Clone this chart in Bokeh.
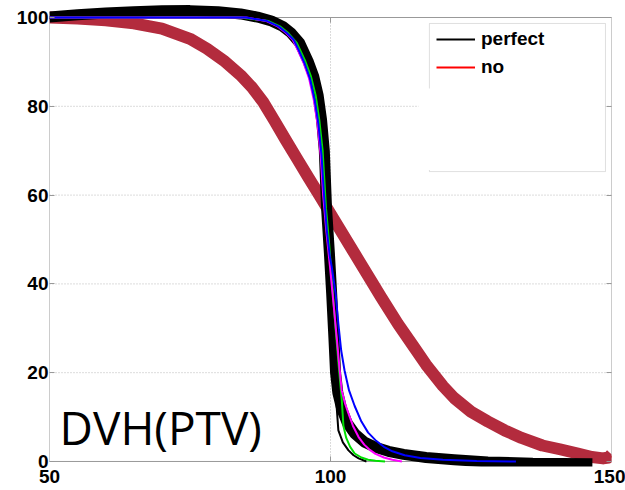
from bokeh.plotting import figure
from bokeh.models import (Range1d, LinearAxis, FixedTicker, Legend, LegendItem,
                          BoxAnnotation, Label, CustomJSTickFormatter)
from bokeh.embed import file_html
from bokeh.resources import INLINE

# ---------------- data ----------------
X_TICKS = [50, 100, 150]
Y_TICKS = [0, 20, 40, 60, 80, 100]
X_LIM = [50, 150]
Y_LIM = [0, 100]
Y_GRID = [20, 40, 60, 80]
X_GRID = [100]

PERFECT_THICK_X = [50, 55, 60, 65, 70, 75, 80, 84, 87, 89.5, 91.5, 93, 94.5, 96, 97, 97.8,
                   98.4, 98.9, 99.3, 99.8, 100.2, 100.6, 100.9, 101.3, 102, 103, 104.3, 106,
                   108, 110.3, 113, 117, 122, 128, 136, 146.6]
PERFECT_THICK_Y = [100.1, 100.6, 101.0, 101.3, 101.5, 101.55, 101.3, 100.8, 100.1, 99.2, 98.0,
                   96.5, 94.3, 90.2, 86.8, 82.5, 77, 70, 57, 47, 38, 28, 20, 15.5, 11.8, 8.6,
                   6.3, 4.4, 3.2, 2.3, 1.6, 0.9, 0.4, -0.1, -0.4, -0.5]

NO_X = [50, 55, 60, 65, 70, 75, 78, 81, 84, 86, 88, 90, 92, 94, 96, 98, 100, 102, 104.3, 107,
        109, 112, 115, 117, 120, 122, 125, 128, 131, 134, 137.7, 141, 144, 146.5, 148.5,
        149.5, 150]
NO_THICK_Y = [100, 99.8, 99.4, 98.7, 97.5, 95.2, 93.0, 90.3, 87.0, 84.3, 81.0, 76.8, 72.5,
              68.3, 64.1, 60.0, 55.8, 51.6, 46.8, 41.2, 37.0, 31.0, 25.5, 21.8, 17.0, 14.3,
              11.2, 9.0, 7.0, 5.3, 3.6, 2.7, 1.8, 1.0, 0.7, 0.9, 1.6]
NO_Y = [99.8, 99.4, 98.9, 98.1, 96.8, 94.5, 92.3, 89.6, 86.2, 83.5, 80.2, 76.0, 71.7, 67.5,
        63.3, 59.2, 55.0, 50.9, 46.1, 40.6, 36.4, 30.4, 25.0, 21.3, 16.5, 13.8, 10.8, 8.7,
        6.7, 5.0, 3.3, 2.4, 1.5, 0.7, 0.4, 0.5, 1.2]

PERFECT_X = [50, 75, 84, 87, 89, 91, 92.5, 94, 95, 96, 97, 98, 98.5, 99, 99.4, 99.8, 100.2,
             100.6, 101, 101.4, 102.2, 103.2, 104.1, 105, 106.4]
PERFECT_Y = [100, 100, 100, 99.7, 99.2, 98.2, 96.8, 94.5, 92.3, 89.5, 85.5, 80, 75.5, 68, 58,
             48, 38, 26, 14, 7, 4.3, 2.5, 1.4, 0.7, 0]

GREEN_X = [50, 84, 89.0, 91.0, 92.5, 94.0, 95.5, 96.5, 97.35, 98.0, 98.6, 99.2, 99.7, 100.3,
           100.9, 101.5, 102.0, 102.3, 102.8, 103.5, 104.3, 105.5, 106.7, 108, 109.7]
GREEN_Y = [100, 100, 99.2, 98.0, 96.5, 94.3, 90.2, 86.8, 82.5, 77, 70, 57, 50, 40, 30, 21,
           14, 8, 5.3, 3.3, 1.8, 0.9, 0.4, 0.15, 0]

BLUE_X = [50, 85, 88.75, 90.75, 92.25, 93.45, 94.4, 95.35, 96.35, 97.2, 97.85, 98.4, 98.85,
          99.35, 99.9, 100.2, 100.9, 101.4, 101.9, 102.5, 103.3, 104.3, 105.5, 106.7, 108,
          109.5, 111, 113.2, 116, 120, 126, 133]
BLUE_Y = [100, 100, 99.2, 98.0, 96.5, 95.0, 92.5, 89.8, 86.2, 81.3, 76, 69, 60, 52, 46, 44,
          38, 31, 25, 20.5, 16, 12.5, 9, 6.5, 4.8, 3.3, 2.3, 1.4, 0.8, 0.4, 0.1, 0]

MAGENTA_X = [50, 85, 88.6, 90.6, 92.1, 93.3, 94.25, 95.2, 96.2, 97.05, 97.7, 98.25, 98.7,
             99.25, 99.9, 100.5, 101.1, 101.6, 102.0, 102.6, 103.2, 104, 105, 106, 107, 108,
             109.5, 111, 112.7]
MAGENTA_Y = [100, 100, 99.2, 98.0, 96.5, 95.0, 92.5, 89.8, 86.2, 81.3, 76, 69, 60, 52, 44, 36,
             28, 21, 16, 13, 10.8, 8, 5.5, 3.8, 2.6, 1.7, 0.9, 0.4, 0]

# ---------------- styling ----------------
FRAME = "#999999"
GRID = "#b8b8b8"
TICK_FONT = "Liberation Sans"

p = figure(width=625, height=490, output_backend="svg", toolbar_location=None,
           x_range=Range1d(X_LIM[0], X_LIM[1]), y_range=Range1d(-1.13, 103.83),
           min_border_left=49, min_border_right=14, min_border_top=0, min_border_bottom=24)
p.outline_line_color = None
p.xgrid.visible = False
p.ygrid.visible = False

p.xaxis.ticker = FixedTicker(ticks=X_TICKS)
p.xaxis.axis_line_color = None
p.xaxis.major_tick_in = 0
p.xaxis.major_tick_out = 0
p.xaxis.minor_tick_line_color = None
p.xaxis.major_label_standoff = 3
p.xaxis.major_label_text_font = TICK_FONT
p.xaxis.major_label_text_font_style = "bold"
p.xaxis.major_label_text_font_size = "19px"
p.xaxis.major_label_text_color = "black"

p.yaxis.ticker = FixedTicker(ticks=Y_TICKS)
p.yaxis.axis_line_color = None
p.yaxis.major_tick_in = 5
p.yaxis.major_tick_out = 0
p.yaxis.major_tick_line_color = FRAME
p.yaxis.minor_tick_line_color = None
p.yaxis.major_label_standoff = 1
p.yaxis.major_label_text_font = TICK_FONT
p.yaxis.major_label_text_font_style = "bold"
p.yaxis.major_label_text_font_size = "19px"
p.yaxis.major_label_text_color = "black"

raxis = LinearAxis(ticker=FixedTicker(ticks=Y_TICKS),
                   formatter=CustomJSTickFormatter(code="return ''"),
                   axis_line_color=None, major_tick_in=5, major_tick_out=0,
                   major_tick_line_color=FRAME, minor_tick_line_color=None,
                   major_label_standoff=0)
p.add_layout(raxis, "right")

p.segment(x0=[X_LIM[0]] * len(Y_GRID), y0=Y_GRID, x1=[X_LIM[1]] * len(Y_GRID), y1=Y_GRID,
          line_color=GRID, line_width=1, line_dash="1 2")
p.segment(x0=X_GRID, y0=[Y_LIM[0]] * len(X_GRID), x1=X_GRID, y1=[Y_LIM[1]] * len(X_GRID),
          line_color=GRID, line_width=1, line_dash="1 2")

p.segment(x0=[X_LIM[0], X_LIM[0], X_LIM[1], X_LIM[0]],
          y0=[Y_LIM[0], Y_LIM[0], Y_LIM[0], Y_LIM[1]],
          x1=[X_LIM[1], X_LIM[0], X_LIM[1], X_LIM[1]],
          y1=[Y_LIM[0], Y_LIM[1], Y_LIM[1], Y_LIM[1]],
          line_color=FRAME, line_width=1)
tick_len = 1.15
inner = X_TICKS[1:-1]
p.segment(x0=inner, y0=[Y_LIM[0]] * len(inner), x1=inner, y1=[Y_LIM[0] + tick_len] * len(inner),
          line_color=FRAME, line_width=1)
p.segment(x0=inner, y0=[Y_LIM[1]] * len(inner), x1=inner, y1=[Y_LIM[1] - tick_len] * len(inner),
          line_color=FRAME, line_width=1)

r_no = p.line(NO_X, NO_Y, line_color="#ff0000", line_width=2)
p.line(NO_X, NO_THICK_Y, line_color="#b32b3d", line_width=12, line_join="round", line_cap="butt")
p.line(PERFECT_THICK_X, PERFECT_THICK_Y, line_color="black", line_width=11,
       line_join="round", line_cap="butt")
r_perfect = p.line(PERFECT_X, PERFECT_Y, line_color="black", line_width=2)
p.line(GREEN_X, GREEN_Y, line_color="#00e000", line_width=2)
p.line(MAGENTA_X, MAGENTA_Y, line_color="#ff00ff", line_width=2)
p.line(BLUE_X, BLUE_Y, line_color="#0000ff", line_width=2)

outer = BoxAnnotation(left=117.6, right=148.93, top=98.65, bottom=65.3,
                      fill_color="white", fill_alpha=1.0, line_color=FRAME, line_width=1)
patch = BoxAnnotation(left=115.66, right=148.75, top=84.0, bottom=65.65,
                      fill_color="white", fill_alpha=1.0, line_color=None)
p.add_layout(outer)
p.add_layout(patch)

legend = Legend(items=[LegendItem(label="perfect", renderers=[r_perfect]),
                       LegendItem(label="no", renderers=[r_no])],
                location=(387, 385), orientation="vertical",
                glyph_width=39, glyph_height=28, label_height=28, label_standoff=6,
                padding=0, spacing=0, margin=0,
                border_line_color=None, background_fill_alpha=0.0,
                label_text_font=TICK_FONT, label_text_font_style="bold",
                label_text_font_size="19px", label_text_color="black")
p.add_layout(legend)

p.add_layout(Label(x=51.8, y=7.8, text="DVH(PTV)", text_font="Open Sans",
                   text_font_size="46px", text_color="black", text_baseline="alphabetic",
                   text_align="left"))

open("out.html", "w").write(file_html(p, INLINE))
